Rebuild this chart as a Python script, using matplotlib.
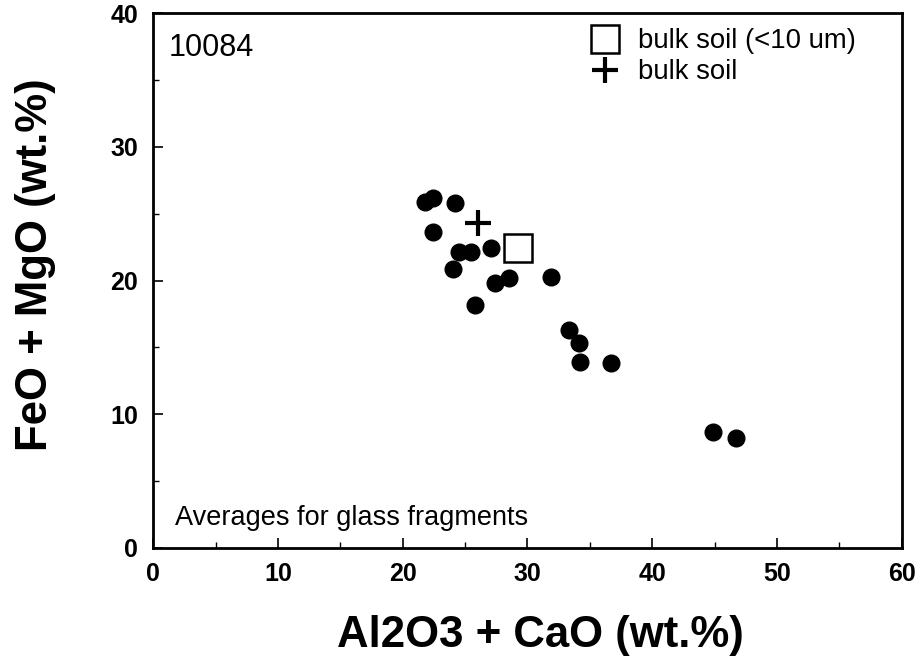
import matplotlib
matplotlib.use("Agg")
import matplotlib.pyplot as plt
from matplotlib.ticker import MultipleLocator

plt.rcParams['font.family'] = ['Liberation Sans', 'DejaVu Sans']

# Data (wt.%)
glass_al2o3_cao = [21.8, 22.4, 24.2, 22.4, 24.5, 25.5, 27.1, 24.0, 31.9, 27.4,
                   28.5, 25.8, 33.3, 34.1, 34.2, 36.7, 44.9, 46.7]
glass_feo_mgo = [25.9, 26.2, 25.8, 23.6, 22.1, 22.1, 22.4, 20.9, 20.3, 19.8,
                 20.2, 18.2, 16.3, 15.3, 13.9, 13.8, 8.7, 8.2]
bulk_fine_x = [29.2]
bulk_fine_y = [22.4]
bulk_x = [26.0]
bulk_y = [24.3]
x_ticks = [0, 10, 20, 30, 40, 50, 60]
y_ticks = [0, 10, 20, 30, 40]

fig = plt.figure(figsize=(9.23, 6.64), dpi=100)
ax = fig.add_axes([0.166, 0.175, 0.811, 0.805])

ax.plot(glass_al2o3_cao, glass_feo_mgo, 'o', color='black', markersize=12,
        linestyle='none')
sq, = ax.plot(bulk_fine_x, bulk_fine_y, 's', markerfacecolor='white',
              markeredgecolor='black', markersize=20, markeredgewidth=1.8,
              linestyle='none', label='bulk soil (<10 um)')
pl, = ax.plot(bulk_x, bulk_y, '+', color='black', markersize=19,
              markeredgewidth=3, linestyle='none', label='bulk soil')

ax.set_xlim(0, 60)
ax.set_ylim(0, 40)
ax.set_xticks(x_ticks)
ax.set_yticks(y_ticks)
ax.xaxis.set_minor_locator(MultipleLocator(5))
ax.yaxis.set_minor_locator(MultipleLocator(5))
ax.tick_params(which='major', direction='in', length=7, width=1.2,
               labelsize=18)
ax.tick_params(axis='y', which='major', pad=11)
ax.tick_params(axis='x', which='major', pad=10)
ax.tick_params(which='minor', direction='in', length=4, width=1.0)
for lab in ax.get_xticklabels() + ax.get_yticklabels():
    lab.set_fontweight('bold')
for s in ax.spines.values():
    s.set_linewidth(2)

ax.set_xlabel('Al2O3 + CaO (wt.%)', fontsize=31.5, fontweight='bold')
ax.set_ylabel('FeO + MgO (wt.%)', fontsize=31.5, fontweight='bold')
ax.xaxis.set_label_coords(0.517, -0.125)
ax.yaxis.set_label_coords(-0.13, 0.53)

ax.text(0.02, 0.935, '10084', transform=ax.transAxes, fontsize=22,
        ha='left', va='center')
ax.text(0.029, 0.056, 'Averages for glass fragments', transform=ax.transAxes,
        fontsize=19.5, ha='left', va='center')

leg = ax.legend(handles=[sq, pl], loc='upper left', frameon=False,
                fontsize=19.8, markerscale=1.0, handlelength=0.96,
                handletextpad=0.7, labelspacing=0.18,
                bbox_to_anchor=(0.586, 0.972), borderpad=0, borderaxespad=0)

fig.savefig('out.png', dpi=100)
